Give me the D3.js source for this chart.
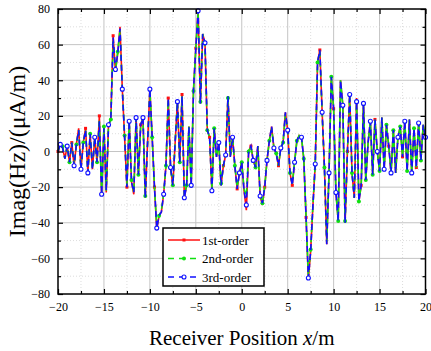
<!DOCTYPE html>
<html>
<head>
<meta charset="utf-8">
<script src="https://cdn.jsdelivr.net/npm/d3@7"></script>
<style>
  body { margin: 0; background: #fff; }
  text { font-family: "Liberation Serif", "Times New Roman", serif; }
</style>
</head>
<body>
<div id="chart"></div>
<script>
// Imag(Hz), one value every 0.25 m from -20 to 20
const firstOrder = [
    0, 4, 2, -4, 3, -6, 5, -8, 4, 13, -10, 5, 13, -12, 10, -10, 8, -6, 20, -25,
    14, -23, 15, 18, 65, 45, 55, 70, 35, 8, -20, 17, -17, -24, 19, -13, 15, 19, -26, 5,
    35, 8, -20, -44, -36, -34, -24, -8, 30, -9, -19, 5, 28, -6, 32, -26, -19, 14, -19, 35,
    58, 79, 27, 66, 61, 12, 8, -22, 13, -3, 5, -19, -8, -2, 31, -3, 8, -8, -21, -12,
    -6, -22, -33, 0, 3, -5, -9, 3, -25, -30, -20, -5, 6, 14, 2, -1, -8, 2, 5, 22,
    12, -12, -19, -6, 6, 9, 8, -4, -37, -72, -56, -30, -7, 50, 57, 22, -9, -52, -12, 42,
    24, -23, -39, 40, 26, -40, 0, 32, -12, -26, 30, -28, -19, 27, -16, 5, 17, -13, 18, 0,
    -11, 19, -10, 15, 3, -12, 12, -12, 8, 14, -3, 17, -11, 18, -12, 13, -9, 16, -5, 15,
    8
];
const secondOrder = [
    0, 4, 3, -4, 3, -6, 5, -8, 4, 12, -10, 5, 12, -12, 10, -10, 8, -6, 18, -24,
    14, -22, 15, 18, 62, 45, 56, 68, 36, 9, -19, 17, -16, -23, 19, -13, 15, 18, -25, 5,
    34, 8, -20, -42, -36, -33, -24, -8, 29, -9, -19, 5, 28, -6, 31, -25, -19, 14, -19, 34,
    58, 78, 28, 66, 60, 12, 8, -21, 13, -3, 5, -18, -8, -2, 30, -3, 8, -8, -20, -12,
    -6, -21, -25, 0, 3, -5, -9, 3, -24, -29, -20, -5, 6, 13, 2, -1, -8, 2, 5, 21,
    12, -12, -18, -6, 6, 9, 8, -4, -36, -70, -55, -30, -7, 50, 56, 22, -9, -51, -12, 42,
    24, -23, -39, 40, 26, -39, 0, 32, -12, -26, 29, -28, -19, 27, -16, 5, 17, -13, 18, 0,
    -11, 19, -10, 15, 3, -12, 12, -12, 8, 14, -3, 17, -11, 18, -12, 13, -9, 16, -5, 15,
    8
];
const thirdOrder = [
    0, 4, 2, -4, 3, -6, 5, -8, 4, 12, -10, 5, 12, -12, 10, -10, 8, -6, 17, -24,
    13, -22, 15, 18, 64, 46, 55, 69, 35, 8, -20, 17, -17, -23, 19, -13, 15, 19, -26, 5,
    35, 8, -20, -43, -36, -34, -24, -8, 30, -9, -19, 5, 28, -6, 31, -26, -19, 14, -19, 35,
    58, 79, 27, 66, 61, 12, 8, -22, 13, -3, 5, -19, -8, -2, 31, -3, 8, -8, -21, -12,
    -6, -22, -30, 0, 3, -5, -9, 3, -25, -29, -20, -5, 6, 14, 2, -1, -8, 2, 5, 22,
    12, -12, -19, -6, 6, 9, 8, -4, -37, -71, -56, -30, -7, 50, 57, 22, -9, -52, -12, 42,
    24, -23, -39, 40, 26, -40, 0, 32, -12, -26, 28, -28, -19, 27, -16, 5, 17, -13, 18, 0,
    -11, 19, -10, 15, 3, -12, 12, -12, 8, 14, -3, 17, -11, 18, -12, 13, -9, 16, -5, 15,
    8
];
const xTicks = [-20, -15, -10, -5, 0, 5, 10, 15, 20];
const xMinorTicks = [-17.5, -12.5, -7.5, -2.5, 2.5, 7.5, 12.5, 17.5];
const yTicks = [-80, -60, -40, -20, 0, 20, 40, 60, 80];
const yMinorTicks = [-70, -50, -30, -10, 10, 30, 50, 70];
const seriesNames = ["1st-order", "2nd-order", "3rd-order"];

const width = 431, height = 351;
const margin = { top: 9, right: 5.5, bottom: 57, left: 58 };

const positions = d3.range(firstOrder.length).map(i => -20 + i * 0.25);

const svg = d3.select("#chart").append("svg")
    .attr("width", width)
    .attr("height", height);

const x = d3.scaleLinear().domain([-20, 20]).range([margin.left, width - margin.right]);
const y = d3.scaleLinear().domain([-80, 80]).range([height - margin.bottom, margin.top]);

// === GRID ===
const grid = svg.append("g");
grid.selectAll(".gx").data(xTicks.slice(1, -1)).enter().append("line")
    .attr("x1", d => x(d)).attr("x2", d => x(d))
    .attr("y1", y(-80)).attr("y2", y(80))
    .attr("stroke", "#c4c4c4").attr("stroke-width", 1);
grid.selectAll(".gy").data(yTicks.slice(1, -1)).enter().append("line")
    .attr("y1", d => y(d)).attr("y2", d => y(d))
    .attr("x1", x(-20)).attr("x2", x(20))
    .attr("stroke", "#c4c4c4").attr("stroke-width", 1);
grid.selectAll(".mx").data(xMinorTicks).enter().append("line")
    .attr("x1", d => x(d)).attr("x2", d => x(d))
    .attr("y1", y(-80)).attr("y2", y(80))
    .attr("stroke", "#d4d4d4").attr("stroke-width", 0.8).attr("stroke-dasharray", "1,2");
grid.selectAll(".my").data(yMinorTicks).enter().append("line")
    .attr("y1", d => y(d)).attr("y2", d => y(d))
    .attr("x1", x(-20)).attr("x2", x(20))
    .attr("stroke", "#d4d4d4").attr("stroke-width", 0.8).attr("stroke-dasharray", "1,2");

// === SERIES ===
const series = [
    { name: seriesNames[0], values: firstOrder, color: "#ff1010", dash: null, marker: "square", every: 6, offset: 0 },
    { name: seriesNames[1], values: secondOrder, color: "#10e010", dash: "6,4", marker: "dot", every: 3, offset: 2 },
    { name: seriesNames[2], values: thirdOrder, color: "#1010ff", dash: "6,4", marker: "circle", every: 3, offset: 1 }
];

const line = d3.line()
    .x((d, i) => x(positions[i]))
    .y(d => y(d));

function drawMarker(g, type, color, cx, cy) {
    if (type === "square") {
        g.append("rect").attr("x", cx - 1.5).attr("y", cy - 1.5)
            .attr("width", 3).attr("height", 3).attr("fill", color);
    } else if (type === "dot") {
        g.append("circle").attr("cx", cx).attr("cy", cy).attr("r", 2).attr("fill", color);
    } else {
        g.append("circle").attr("cx", cx).attr("cy", cy).attr("r", 2)
            .attr("fill", "#fff").attr("stroke", color).attr("stroke-width", 1.1);
    }
}

series.forEach(s => {
    const g = svg.append("g");
    g.append("path")
        .datum(s.values)
        .attr("d", line)
        .attr("fill", "none")
        .attr("stroke", s.color)
        .attr("stroke-width", 1.6)
        .attr("stroke-dasharray", s.dash);
    s.values.forEach((v, i) => {
        if (i % s.every === s.offset) drawMarker(g, s.marker, s.color, x(positions[i]), y(v));
    });
});

// === AXES ===
const fmt = d3.format("d");
svg.append("g")
    .attr("transform", `translate(0,${y(-80)})`)
    .call(d3.axisBottom(x).tickValues(xTicks).tickFormat(fmt).tickSizeInner(-5).tickSizeOuter(0).tickPadding(8))
    .call(g => g.select(".domain").remove())
    .call(g => g.selectAll("text").attr("font-size", 12).attr("font-family", "Liberation Serif"));
svg.append("g")
    .attr("transform", `translate(${x(-20)},0)`)
    .call(d3.axisLeft(y).tickValues(yTicks).tickFormat(fmt).tickSizeInner(-5).tickSizeOuter(0).tickPadding(8))
    .call(g => g.select(".domain").remove())
    .call(g => g.selectAll("text").attr("font-size", 12).attr("font-family", "Liberation Serif"));
svg.append("g")
    .attr("transform", `translate(0,${y(80)})`)
    .call(d3.axisTop(x).tickValues(xTicks).tickFormat("").tickSizeInner(-5).tickSizeOuter(0))
    .call(g => g.select(".domain").remove());
svg.append("g")
    .attr("transform", `translate(${x(20)},0)`)
    .call(d3.axisRight(y).tickValues(yTicks).tickFormat("").tickSizeInner(-5).tickSizeOuter(0))
    .call(g => g.select(".domain").remove());

// minor ticks on all four sides
[[d3.axisBottom, y(-80), xMinorTicks, x, false], [d3.axisTop, y(80), xMinorTicks, x, false],
 [d3.axisLeft, x(-20), yMinorTicks, y, true], [d3.axisRight, x(20), yMinorTicks, y, true]]
    .forEach(([ax, pos, vals, sc, vertical]) => {
        svg.append("g")
            .attr("transform", vertical ? `translate(${pos},0)` : `translate(0,${pos})`)
            .call(ax(sc).tickValues(vals).tickFormat("").tickSizeInner(-3).tickSizeOuter(0))
            .call(g => g.select(".domain").remove());
    });

svg.selectAll(".tick line").attr("stroke", "#000").attr("stroke-width", 1.2);

// frame
svg.append("rect")
    .attr("x", x(-20)).attr("y", y(80))
    .attr("width", x(20) - x(-20)).attr("height", y(-80) - y(80))
    .attr("fill", "none").attr("stroke", "#000").attr("stroke-width", 1.5);

// === LABELS ===
const xTitle = svg.append("text")
    .attr("x", (x(-20) + x(20)) / 2)
    .attr("y", 345)
    .attr("text-anchor", "middle")
    .attr("font-size", 21);
xTitle.append("tspan").text("Receiver Position ");
xTitle.append("tspan").attr("font-style", "italic").text("x");
xTitle.append("tspan").text("/m");

svg.append("text")
    .attr("transform", `translate(25,${(y(80) + y(-80)) / 2}) rotate(-90)`)
    .attr("text-anchor", "middle")
    .attr("font-size", 24)
    .text("Imag(Hz)/(\u03bcA/m)");

// === LEGEND ===
const legend = svg.append("g").attr("transform", "translate(163,228)");
legend.append("rect")
    .attr("width", 101).attr("height", 58)
    .attr("fill", "#fff").attr("stroke", "#000").attr("stroke-width", 1.5);
series.forEach((s, i) => {
    const ly = 12 + i * 18.5;
    const row = legend.append("g");
    row.append("line")
        .attr("x1", 5).attr("x2", 37).attr("y1", ly).attr("y2", ly)
        .attr("stroke", s.color).attr("stroke-width", 1.5)
        .attr("stroke-dasharray", s.dash ? "6,5" : null);
    drawMarker(row, s.marker, s.color, 21, ly);
    row.append("text")
        .attr("x", 39).attr("y", ly + 4.5)
        .attr("font-size", 13)
        .text(s.name);
});
</script>
</body>
</html>
